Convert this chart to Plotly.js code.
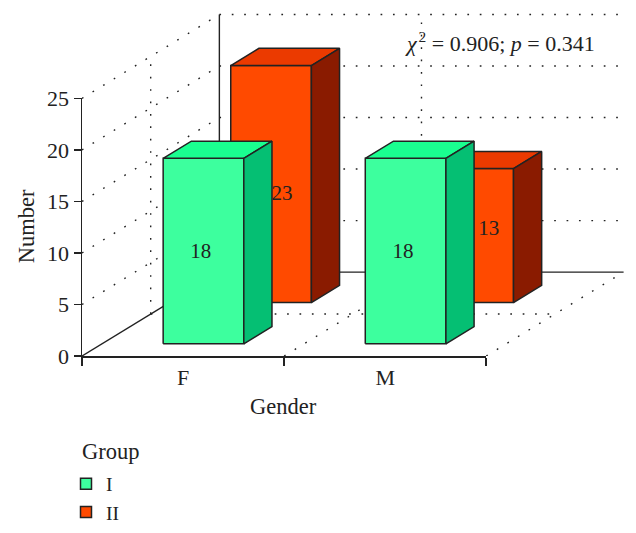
<!DOCTYPE html>
<html>
<head>
<meta charset="utf-8">
<script src="https://cdn.plot.ly/plotly-3.0.1.min.js"></script>
<style>html,body{margin:0;padding:0;background:#fff}</style>
</head>
<body>
<div id="chart" style="width:636px;height:533px"></div>
<script>
// Data
const categories = ['F', 'M'];
const groupNames = ['I', 'II'];
const groupI = [18, 18];
const groupII = [23, 13];
const yTicks = [0, 5, 10, 15, 20, 25];
const statText = '<i>χ</i>&#8202;<sup>2</sup> = 0.906; <i>p</i> = 0.341';

// Pseudo-3D oblique projection: depth 0..1 shifts a point along the floor
const DX = 137.5 / 202.3;   // category units per unit of depth
const DY = 84 / 10.32;      // value units per unit of depth
const proj = (x, v, d) => [x + d * DX, v + d * DY];
const INK = '#222222';
const FONT = 'Liberation Serif, serif';

// Full drawing area spans walls and floor; the visible axes take the front part of it
const PLOT = {l: 81.5, r: 628, t: 10, b: 356.5};
const frontW = 404.6, frontH = 258;
const plotW = PLOT.r - PLOT.l, plotH = PLOT.b - PLOT.t;

const traces = [];
function seg(points, dash, width) {
  const p = points.map(q => proj(q[0], q[1], q[2]));
  traces.push({
    type: 'scatter', mode: 'lines', xaxis: 'x2', yaxis: 'y2',
    x: p.map(q => q[0]), y: p.map(q => q[1]),
    line: {color: INK, width: width || 1.4, dash: dash || 'solid'},
    showlegend: false, hoverinfo: 'skip', cliponaxis: false
  });
}
const DOT = '1.7px,10.7px';
const xMax = categories.length;
const yTop = yTicks[yTicks.length - 1];

// walls and floor
yTicks.slice(1).forEach(v => {
  seg([[0, v, 0], [0, v, 1]], DOT);
  seg([[0, v, 1], [xMax, v, 1]], DOT);
});
seg([[0, 0, 0.5], [0, yTop, 0.5]], DOT);
seg([[1, 0, 1], [1, yTop, 1]], DOT);
seg([[1, 0, 0], [1, 0, 1]], DOT);
seg([[2, 0, 0], [2, 0, 1]], DOT);
seg([[0, 0, 0.5], [2, 0, 0.5]], DOT);
seg([[0, 0, 0], [0, 0, 1]]);
seg([[0, 0, 1], [2, 0, 1]]);
seg([[0, 0, 1], [0, yTop, 1]]);

function face(points, color) {
  const p = points.map(q => proj(q[0], q[1], q[2]));
  p.push(p[0]);
  traces.push({
    type: 'scatter', mode: 'lines', fill: 'toself', fillcolor: color, xaxis: 'x2', yaxis: 'y2',
    x: p.map(q => q[0]), y: p.map(q => q[1]),
    line: {color: INK, width: 1.5}, showlegend: false, hoverinfo: 'skip', cliponaxis: false
  });
}
function box(cat, v, d0, color) {
  const x0 = cat + 0.303, x1 = cat + 0.702, d1 = d0 + 0.205;
  face([[x0, 0, d0], [x1, 0, d0], [x1, v, d0], [x0, v, d0]], color.front);
  face([[x0, v, d0], [x1, v, d0], [x1, v, d1], [x0, v, d1]], color.top);
  face([[x1, 0, d0], [x1, 0, d1], [x1, v, d1], [x1, v, d0]], color.side);
}
const orange = {front: '#FF4A00', top: '#EB3A00', side: '#8A1B00'};
const green = {front: '#3DFF9E', top: '#1AFF90', side: '#05BF73'};
groupII.forEach((v, i) => box(i, v, 0.637, orange));
groupI.forEach((v, i) => box(i, v, 0.145, green));

// value labels
function label(cat, v, d, dv) {
  const p = proj(cat + 0.503, v / 2 + dv, d);
  traces.push({
    type: 'scatter', mode: 'text', xaxis: 'x2', yaxis: 'y2', x: [p[0]], y: [p[1]], text: [String(v)],
    textposition: 'middle center', textfont: {family: FONT, size: 21, color: INK},
    showlegend: false, hoverinfo: 'skip', cliponaxis: false
  });
}
groupI.forEach((v, i) => label(i, v, 0.125, 0));
label(0, groupII[0], 0.716, -1.72);
label(1, groupII[1], 0.75, -0.4);

// legend entries (they also bind the visible front axes)
[[groupNames[0], green.front], [groupNames[1], orange.front]].forEach(g => {
  traces.push({
    type: 'scatter', mode: 'markers', x: [null], y: [null], name: g[0],
    marker: {symbol: 'square', size: 11, color: g[1], line: {color: INK, width: 1.5}},
    hoverinfo: 'skip'
  });
});

function note(text, x, y, size, extra) {
  return Object.assign({
    xref: 'paper', yref: 'paper', x: (x - PLOT.l) / plotW, y: (PLOT.b - y) / plotH,
    xanchor: 'center', yanchor: 'middle', text: text, showarrow: false,
    font: {family: FONT, size: size, color: INK}
  }, extra || {});
}

const layout = {
  width: 636, height: 533,
  margin: {l: PLOT.l, r: 636 - PLOT.r, t: PLOT.t, b: 533 - PLOT.b, pad: 0, autoexpand: false},
  paper_bgcolor: '#fff', plot_bgcolor: 'rgba(0,0,0,0)',
  font: {family: FONT, size: 22, color: INK},
  showlegend: true,
  legend: {
    xref: 'container', yref: 'container',
    x: 66 / 636, xanchor: 'left', y: 1 - 464.5 / 533, yanchor: 'top',
    font: {family: FONT, size: 19.5, color: INK},
    tracegroupgap: 0, itemwidth: 30, bgcolor: 'rgba(0,0,0,0)'
  },
  xaxis: {
    domain: [0, frontW / plotW], anchor: 'y', automargin: false,
    range: [0, 2], showgrid: false, zeroline: false, showline: true, linecolor: INK, linewidth: 1.5,
    tickmode: 'array', tickvals: [0.5, 1.5], ticktext: categories, ticks: '', ticklen: 0,
    ticklabelstandoff: 1, tickfont: {family: FONT, size: 22, color: INK},
    minor: {tickmode: 'array', tickvals: [0, 1, 2], ticks: 'outside', ticklen: 8, tickcolor: INK, tickwidth: 1.5, showgrid: false}
  },
  yaxis: {
    domain: [0, frontH / plotH], anchor: 'x', automargin: false,
    range: [0, 25], showgrid: false, zeroline: false, showline: true, linecolor: INK, linewidth: 1.5,
    tickmode: 'array', tickvals: yTicks, ticks: 'outside', ticklen: 7, tickcolor: INK, tickwidth: 1.5,
    tickfont: {family: FONT, size: 22, color: INK}
  },
  xaxis2: {
    domain: [0, 1], anchor: 'y2', range: [0, 2 * plotW / frontW],
    visible: false, fixedrange: true
  },
  yaxis2: {
    domain: [0, 1], anchor: 'x2', range: [0, 25 * plotH / frontH],
    visible: false, fixedrange: true
  },
  annotations: [
    note(statText, 500, 42, 22),
    note('Gender', 283, 407, 22.5),
    note('Number', 26, 227, 22.5, {textangle: -90}),
    note('Group', 111, 452, 22.5)
  ]
};
Plotly.newPlot('chart', traces, layout, {displayModeBar: false, staticPlot: true});
</script>
</body>
</html>
